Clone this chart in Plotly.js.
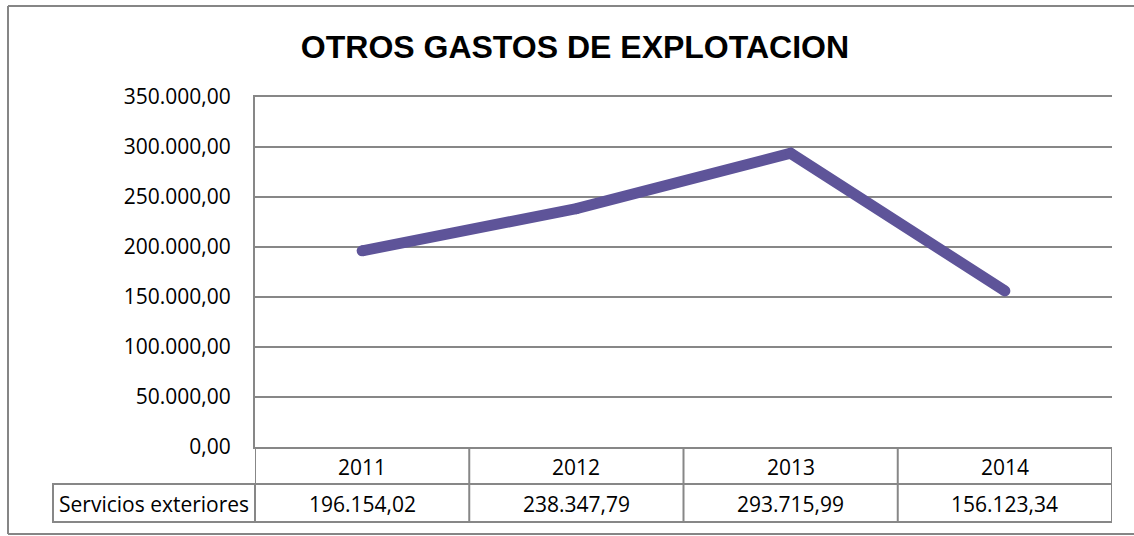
<!DOCTYPE html>
<html>
<head>
<meta charset="utf-8">
<script src="https://cdn.plot.ly/plotly-3.0.1.min.js"></script>
<style>
  html, body { margin: 0; padding: 0; background: #fff; }
  #chart { width: 1134px; height: 536px; }
</style>
</head>
<body>
<div id="chart"></div>
<script>
// chart data
const years = ["2011", "2012", "2013", "2014"];
const seriesName = "Servicios exteriores";
const gastos = [196154.02, 238347.79, 293715.99, 156123.34];
const chartTitle = "OTROS GASTOS DE EXPLOTACION";

const lineColor = "#5e5499";
const gridColor = "#878787";
const txtFont = { family: "Open Sans, Liberation Sans, sans-serif", size: 21, color: "#000" };

// 196154.02 -> "196.154,02"
function fmtEs(v) {
  const parts = v.toFixed(2).split(".");
  const intPart = parts[0].replace(/\B(?=(\d{3})+(?!\d))/g, ".");
  return intPart + "," + parts[1];
}

const trace = {
  x: years,
  y: gastos,
  type: "scatter",
  mode: "lines+markers",
  name: seriesName,
  line: { color: lineColor, width: 11 },
  marker: { color: lineColor, size: 11 },
  hoverinfo: "skip"
};

// data table below the plot: column borders at category edges
const shapes = [];
const edges = [-0.5, 0.5, 1.5, 2.5, 3.5];
edges.forEach(e => {
  shapes.push({
    type: "line", xref: "x", yref: "paper", ysizemode: "pixel", yanchor: 0,
    x0: e, x1: e, y0: 0, y1: -75,
    line: { color: gridColor, width: 2 }
  });
});
// row separator and bottom line across the years
[-37, -75].forEach(dy => {
  shapes.push({
    type: "line", xref: "x", yref: "paper", ysizemode: "pixel", yanchor: 0,
    x0: -0.5, x1: 3.5, y0: dy, y1: dy,
    line: { color: gridColor, width: 2 }
  });
});
// label cell for the series name
shapes.push({
  type: "rect", xref: "paper", yref: "paper",
  xsizemode: "pixel", xanchor: 0, ysizemode: "pixel", yanchor: 0,
  x0: -202, x1: 0, y0: -37, y1: -75,
  line: { color: gridColor, width: 2 }
});
// outer chart border (right side is cut off in the original)
const borderLine = { color: "#868686", width: 2 };
shapes.push({ type: "line", xref: "paper", yref: "paper", xsizemode: "pixel", xanchor: 0, ysizemode: "pixel", yanchor: 1,
  x0: -247, x1: 900, y0: 91, y1: 91, line: borderLine });
shapes.push({ type: "line", xref: "paper", yref: "paper", xsizemode: "pixel", xanchor: 0, ysizemode: "pixel", yanchor: 0,
  x0: -247, x1: 900, y0: -87, y1: -87, line: borderLine });
shapes.push({ type: "line", xref: "paper", yref: "paper", xsizemode: "pixel", xanchor: 0, ysizemode: "pixel", yanchor: 0,
  x0: -247, x1: -247, y0: -87, y1: 441, line: borderLine });

// table text: years row and values row (x given as category index)
const annotations = [];
years.forEach((yr, i) => {
  annotations.push({
    xref: "x", yref: "paper", x: i, y: 0, yshift: -20,
    xanchor: "center", yanchor: "middle", showarrow: false,
    text: yr, font: txtFont
  });
  annotations.push({
    xref: "x", yref: "paper", x: i, y: 0, yshift: -57,
    xanchor: "center", yanchor: "middle", showarrow: false,
    text: fmtEs(gastos[i]), font: txtFont
  });
});
annotations.push({
  xref: "paper", yref: "paper", x: 0, y: 0, xshift: -101, yshift: -57,
  xanchor: "center", yanchor: "middle", showarrow: false,
  text: seriesName, font: txtFont
});

const layout = {
  width: 1134,
  height: 536,
  margin: { l: 255, r: 22, t: 97, b: 89 },
  paper_bgcolor: "#fff",
  plot_bgcolor: "#fff",
  separators: ",.",
  showlegend: false,
  title: {
    text: "<b>" + chartTitle + "</b>",
    font: { family: "Liberation Sans, Arial, sans-serif", size: 32, color: "#000" },
    xref: "container", yref: "container",
    x: 0.507, y: 0.912, xanchor: "center", yanchor: "middle"
  },
  xaxis: {
    type: "category",
    range: [-0.5, 3.5],
    showticklabels: false,
    showgrid: false,
    zeroline: false,
    showline: true,
    mirror: true,
    linecolor: gridColor,
    linewidth: 2,
    fixedrange: true
  },
  yaxis: {
    range: [0, 350000],
    dtick: 50000,
    tickformat: ",.2f",
    tickfont: txtFont,
    ticklabelstandoff: 18,
    showgrid: true,
    gridcolor: gridColor,
    gridwidth: 2,
    zeroline: true,
    zerolinecolor: gridColor,
    zerolinewidth: 2,
    showline: true,
    linecolor: gridColor,
    linewidth: 2,
    fixedrange: true
  },
  shapes: shapes,
  annotations: annotations
};

Plotly.newPlot("chart", [trace], layout, { displayModeBar: false, staticPlot: true });
</script>
</body>
</html>
